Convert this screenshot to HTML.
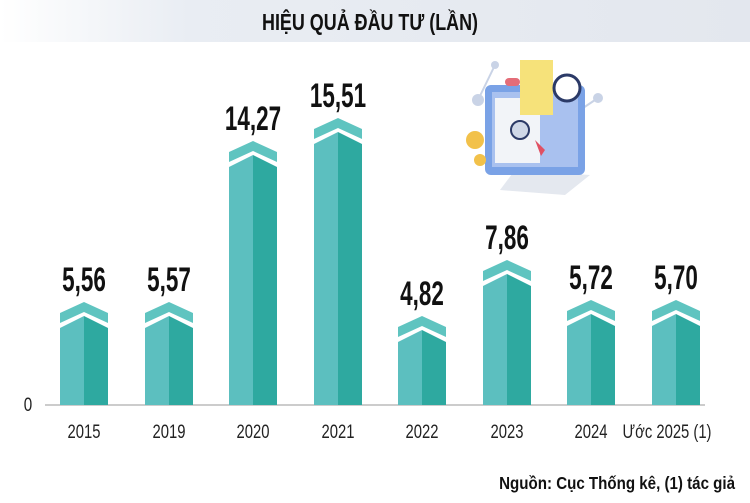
<!DOCTYPE html>
<html><head><meta charset="utf-8"><style>
html,body{margin:0;padding:0;background:#fff;}
svg{display:block;}
.v{font-family:"Liberation Sans",sans-serif;font-weight:bold;font-size:34px;fill:#111;text-anchor:middle;}
.y{font-family:"Liberation Sans",sans-serif;font-size:19px;fill:#222;text-anchor:middle;}
</style></head><body>
<svg width="750" height="503" viewBox="0 0 750 503">
<defs><linearGradient id="g" x1="0" x2="1"><stop offset="0" stop-color="#fff"/><stop offset="0.25" stop-color="#e9edf3"/><stop offset="1" stop-color="#e3e7ee"/></linearGradient></defs>
<rect x="0" y="0" width="750" height="42" fill="url(#g)"/>
<text transform="translate(370,30) scale(0.78,1)" style="font-family:'Liberation Sans',sans-serif;font-weight:bold;font-size:23px;fill:#111" text-anchor="middle">HIỆU QUẢ ĐẦU TƯ (LẦN)</text>
<g>
<line x1="478" y1="100" x2="495" y2="65" stroke="#c9d3e6" stroke-width="2"/><circle cx="478" cy="100" r="6" fill="#c9d3e6"/><circle cx="495" cy="65" r="4" fill="#c9d3e6"/>
<circle cx="598" cy="98" r="5" fill="#c9d3e6"/><line x1="580" y1="110" x2="598" y2="98" stroke="#c9d3e6" stroke-width="2"/>
<path d="M515 170 L500 190 L565 195 L590 175 Z" fill="#e4e8ef"/>
<rect x="485" y="85" width="100" height="90" rx="6" fill="#7aa2e6"/>
<rect x="492" y="92" width="86" height="75" fill="#a9c1ef"/>
<rect x="495" y="98" width="45" height="65" fill="#f2f4f8"/>
<rect x="520" y="60" width="33" height="55" fill="#f6e27a"/>
<circle cx="567" cy="88" r="13" fill="#fff" stroke="#2b3a67" stroke-width="3"/>
<circle cx="520" cy="130" r="9" fill="#cfd8e8" stroke="#2b3a67" stroke-width="2"/>
<path d="M535 140 l10 10 l-4 6 z" fill="#e05063"/>
<circle cx="475" cy="140" r="9" fill="#f2c14a"/><circle cx="480" cy="160" r="6" fill="#f2c14a"/>
<rect x="505" y="78" width="15" height="8" rx="4" fill="#e46d78"/>
</g>
<line x1="45" y1="405" x2="705" y2="405" stroke="#bbb" stroke-width="1.5"/>
<text transform="translate(28,411) scale(0.8,1)" class="y">0</text>
<g id="bars"></g>
<g id="yrs"></g>
<text transform="translate(735,489) scale(0.84,1)" style="font-family:'Liberation Sans',sans-serif;font-weight:bold;font-size:18px;fill:#111" text-anchor="end">Nguồn: Cục Thống kê, (1) tác giả</text>
</svg>
<script>
var d=[[84,302,"5,56","2015"],[169,302,"5,57","2019"],[253,141,"14,27","2020"],[338,118,"15,51","2021"],[422,316,"4,82","2022"],[507,260,"7,86","2023"],[591,300,"5,72","2024"],[676,300,"5,70","Ước 2025 (1)"]];
var s="",t="";
d.forEach(function(b,i){var c=b[0],A=b[1],l=c-24,r=c+24;
s+='<polygon points="'+l+','+(A+11)+' '+c+','+A+' '+r+','+(A+11)+' '+r+','+(A+21)+' '+c+','+(A+10)+' '+l+','+(A+21)+'" fill="#5fc4c0"/>';
s+='<polygon points="'+l+','+(A+26)+' '+c+','+(A+14)+' '+c+',405 '+l+',405" fill="#5cbfbf"/>';
s+='<polygon points="'+c+','+(A+14)+' '+r+','+(A+26)+' '+r+',405 '+c+',405" fill="#2ea9a0"/>';
s+='<text transform="translate('+c+','+(A-11)+') scale(0.66,1)" class="v">'+b[2]+'</text>';
var x=i==7?667:c;
t+='<text transform="translate('+x+',438) scale(0.78,1)" class="y">'+b[3]+'</text>';});
document.getElementById("bars").innerHTML=s;
document.getElementById("yrs").innerHTML=t;
</script>
</body></html>
